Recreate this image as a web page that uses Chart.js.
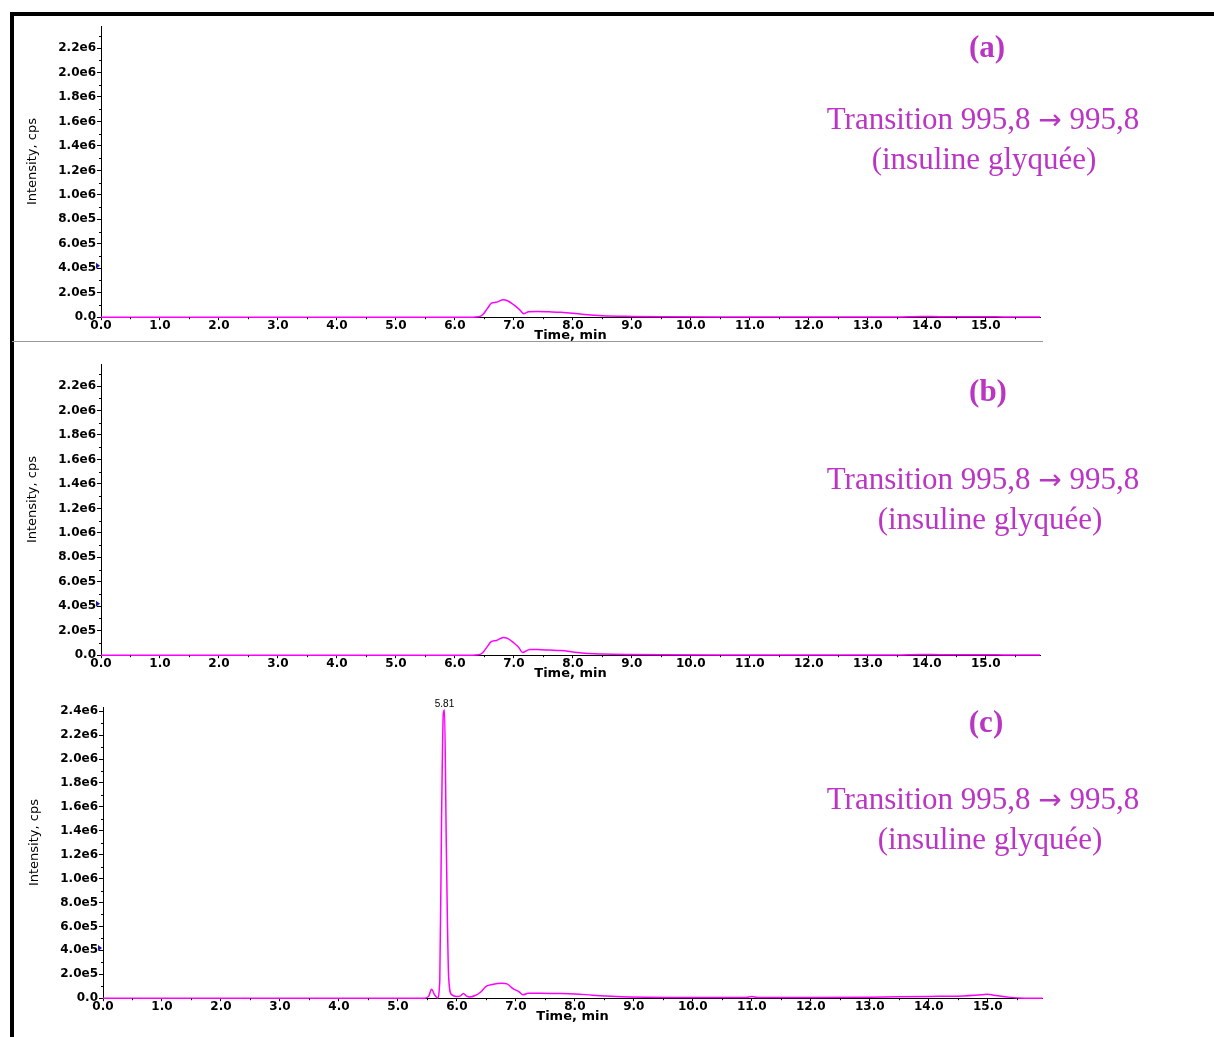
<!DOCTYPE html>
<html>
<head>
<meta charset="utf-8">
<script src="https://cdn.jsdelivr.net/npm/chart.js@4"></script>
<style>
  body { margin: 0; background: #fff; width: 1214px; height: 1037px; position: relative; overflow: hidden; }
  #frame { position: absolute; left: 10px; top: 12px; width: 1220px; height: 1040px;
           border-top: 4px solid #000; border-left: 4px solid #000; }
  #sep { position: absolute; left: 12px; top: 341px; width: 1031px; height: 1px; background: #999; }
  .panel { position: absolute; }
  .note { position: absolute; transform: translate(-50%, -50%); white-space: nowrap;
          font-family: "Liberation Serif", serif; color: #BB35C5; font-size: 31px; }
  .note .arr { font-family: "DejaVu Sans", sans-serif; font-size: 28px; }
  .tag { font-weight: bold; }
</style>
</head>
<body>
<div id="frame"></div>
<div id="sep"></div>

<canvas class="panel" id="chartA" width="1046" height="324" style="left:14px;top:18px"></canvas>
<canvas class="panel" id="chartB" width="1046" height="324" style="left:14px;top:356px"></canvas>
<canvas class="panel" id="chartC" width="1046" height="324" style="left:16px;top:699px"></canvas>

<div class="note tag" style="left:987px;top:47px">(a)</div>
<div class="note" style="left:983px;top:119px">Transition 995,8 <span class="arr">→</span> 995,8</div>
<div class="note" style="left:984px;top:159px">(insuline glyquée)</div>

<div class="note tag" style="left:988px;top:391px">(b)</div>
<div class="note" style="left:983px;top:479px">Transition 995,8 <span class="arr">→</span> 995,8</div>
<div class="note" style="left:990px;top:519px">(insuline glyquée)</div>

<div class="note tag" style="left:986px;top:722px">(c)</div>
<div class="note" style="left:983px;top:799px">Transition 995,8 <span class="arr">→</span> 995,8</div>
<div class="note" style="left:990px;top:839px">(insuline glyquée)</div>

<script>
// chromatogram data (time in min, intensity in cps)
const timeA = [0, 6.3, 6.4, 6.47, 6.55, 6.62, 6.7, 6.82, 6.9, 7.0, 7.1, 7.17, 7.25, 7.4, 7.6, 7.8, 8.0, 8.2, 8.5, 9.0, 9.5, 10.5, 12.0, 13.5, 13.9, 14.1, 14.4, 15.0, 15.3, 15.92];
const intA  = [0, 0, 3000, 20000, 70000, 115000, 122000, 142000, 132000, 100000, 60000, 28000, 45000, 47000, 44000, 40000, 32000, 22000, 12000, 6000, 3000, 2000, 2000, 2000, 6000, 5000, 3000, 4000, 2000, 1000];

const timeB = [0, 6.3, 6.4, 6.47, 6.55, 6.61, 6.7, 6.82, 6.9, 7.0, 7.08, 7.15, 7.27, 7.4, 7.6, 7.8, 8.0, 8.2, 8.5, 9.0, 9.5, 10.5, 12.0, 13.5, 13.9, 14.1, 14.4, 15.0, 15.3, 15.92];
const intB  = [0, 0, 3000, 20000, 70000, 109000, 120000, 145000, 135000, 100000, 65000, 22000, 47000, 46000, 42000, 38000, 27000, 15000, 9000, 5000, 3000, 2000, 2000, 2000, 6000, 5000, 3000, 4000, 2000, 1000];

const timeC = [0, 5.45, 5.52, 5.57, 5.62, 5.67, 5.71, 5.74, 5.77, 5.79, 5.82, 5.86, 5.91, 6.0, 6.06, 6.11, 6.16, 6.22, 6.3, 6.4, 6.5, 6.6, 6.76, 6.85, 6.95, 7.05, 7.12, 7.21, 7.4, 7.7, 8.0, 8.3, 8.7, 9.2, 10.0, 10.9, 11.0, 11.1, 12.0, 13.0, 14.0, 14.5, 14.9, 15.0, 15.1, 15.3, 15.5, 15.93];
const intC  = [0, 0, 15000, 75000, 30000, 2000, 150000, 1500000, 2380000, 2410000, 1300000, 180000, 30000, 15000, 20000, 40000, 20000, 10000, 20000, 50000, 100000, 115000, 125000, 120000, 80000, 55000, 28000, 42000, 42000, 40000, 36000, 25000, 14000, 8000, 6000, 6000, 14000, 6000, 6000, 8000, 15000, 17000, 28000, 33000, 25000, 12000, 2000, 0];

const yMaxAB = 2380000;
const yMaxC = 2435000;
const yStep = 200000;
const xMax = 15.92;
const markerLevel = 420000;
const peakLabel = '5.81';
const yTitle = 'Intensity, cps';

const tickFont = { family: 'DejaVu Sans', size: 12, weight: 'bold', lineHeight: 0.9 };

function fmtY(v) {
  if (v === 0) return '0.0';
  return v.toExponential(1).replace('e+', 'e');
}

// fixed 2e5 steps, without the top bound
function yTicks(scale) {
  const list = [];
  for (let i = 0; i * yStep <= scale.max; i++) list.push({ value: i * yStep });
  scale.ticks = list;
}

// minor ticks, y title, threshold marker, peak label
const extras = {
  id: 'extras',
  afterDraw(chart) {
    const ctx = chart.ctx;
    const xs = chart.scales.x, ys = chart.scales.y;
    const area = chart.chartArea;
    ctx.save();
    ctx.strokeStyle = '#000';
    ctx.lineWidth = 1;
    ctx.beginPath();
    for (let t = 0.5; t < xs.max; t += 1) {
      const px = Math.round(xs.getPixelForValue(t)) + 0.5;
      ctx.moveTo(px, area.bottom);
      ctx.lineTo(px, area.bottom + 2);
    }
    for (let v = yStep / 2; v < ys.max; v += yStep) {
      const py = Math.round(ys.getPixelForValue(v)) + 0.5;
      ctx.moveTo(area.left - 2, py);
      ctx.lineTo(area.left, py);
    }
    ctx.stroke();

    // rotated y title, sitting a bit above the middle like the original
    ctx.save();
    ctx.translate(area.left - 68, (area.top + area.bottom) / 2 - 10);
    ctx.rotate(-Math.PI / 2);
    ctx.fillStyle = '#000';
    ctx.font = '13px "DejaVu Sans", sans-serif';
    ctx.textAlign = 'center';
    ctx.textBaseline = 'middle';
    ctx.fillText(yTitle, 0, 0);
    ctx.restore();

    const my = ys.getPixelForValue(markerLevel);
    ctx.fillStyle = '#1a1a99';
    ctx.beginPath();
    ctx.moveTo(area.left - 5, my - 3);
    ctx.lineTo(area.left - 1, my);
    ctx.lineTo(area.left - 5, my + 3);
    ctx.closePath();
    ctx.fill();

    const opts = chart.options.plugins.extras;
    if (opts && opts.label) {
      const data = chart.data.datasets[0].data;
      let best = 0;
      data.forEach((p, i) => { if (p.y > data[best].y) best = i; });
      const pt = chart.getDatasetMeta(0).data[best];
      ctx.fillStyle = '#000';
      ctx.font = '10px "Liberation Sans", sans-serif';
      ctx.textAlign = 'center';
      ctx.textBaseline = 'bottom';
      ctx.fillText(opts.label, pt.x, pt.y - 1);
    }
    ctx.restore();
  }
};

function makeChart(id, times, values, yMax, label) {
  const ctx = document.getElementById(id).getContext('2d');
  return new Chart(ctx, {
    type: 'line',
    data: {
      datasets: [{
        data: times.map((t, i) => ({ x: t, y: values[i] })),
        borderColor: '#FF00FF',
        borderWidth: 1.5,
        pointRadius: 0,
        fill: false,
        cubicInterpolationMode: 'monotone',
        clip: 6
      }]
    },
    options: {
      responsive: false,
      animation: false,
      layout: { padding: { top: 8, right: 20, bottom: 0, left: 0 } },
      plugins: {
        legend: { display: false },
        tooltip: { enabled: false },
        extras: { label: label }
      },
      scales: {
        x: {
          type: 'linear',
          min: 0,
          max: xMax,
          grid: { drawOnChartArea: false, tickLength: 3, color: '#000' },
          border: { color: '#000', width: 1 },
          ticks: {
            stepSize: 1,
            maxTicksLimit: 30,
            includeBounds: false,
            padding: 0,
            maxRotation: 0,
            autoSkip: false,
            color: '#000',
            font: tickFont,
            callback: v => v.toFixed(1)
          },
          title: {
            display: true,
            text: 'Time, min',
            color: '#000',
            padding: { top: -2, bottom: 0 },
            font: { family: 'DejaVu Sans', size: 13, weight: 'bold', lineHeight: 1 }
          }
        },
        y: {
          min: 0,
          max: yMax,
          afterFit: s => { s.width = 87; },
          afterBuildTicks: yTicks,
          grid: { drawOnChartArea: false, tickLength: 4, color: '#000' },
          border: { color: '#000', width: 1 },
          ticks: {
            padding: 1,
            autoSkip: false,
            color: '#000',
            font: tickFont,
            callback: fmtY
          }
        }
      }
    },
    plugins: [extras]
  });
}

makeChart('chartA', timeA, intA, yMaxAB, null);
makeChart('chartB', timeB, intB, yMaxAB, null);
makeChart('chartC', timeC, intC, yMaxC, peakLabel);
</script>
</body>
</html>
